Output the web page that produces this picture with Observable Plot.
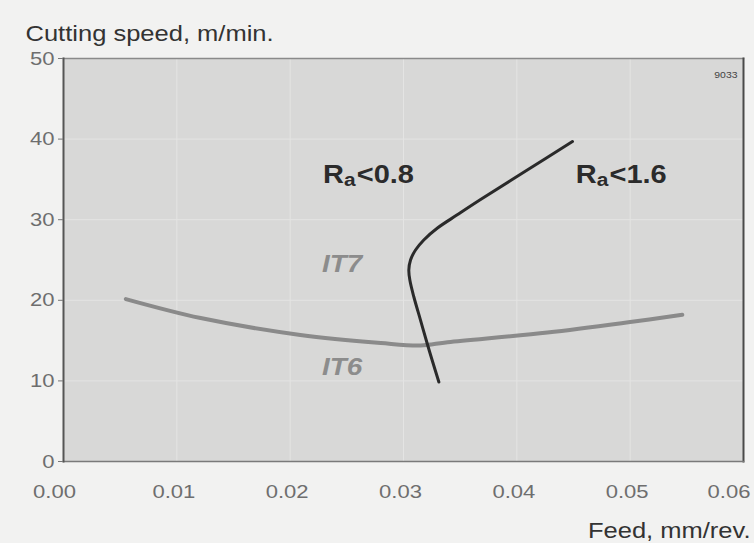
<!DOCTYPE html>
<html>
<head>
<meta charset="utf-8">
<script src="https://cdn.jsdelivr.net/npm/d3@7"></script>
<script src="https://cdn.jsdelivr.net/npm/@observablehq/plot@0.6"></script>
<style>
  html, body { margin: 0; padding: 0; background: #f1f1f0; }
  svg { display: block; }
</style>
</head>
<body>
<div id="chart"></div>
<script>
// ---- data ----
const xTicks = [0, 0.01, 0.02, 0.03, 0.04, 0.05, 0.06];
const xTickLabels = ["0.00", "0.01", "0.02", "0.03", "0.04", "0.05", "0.06"];
const yTicks = [0, 10, 20, 30, 40, 50];

// IT6 / IT7 boundary (grey curve)
const itFeed  = [0.0055, 0.0121, 0.0209, 0.0280, 0.0315, 0.0339, 0.0427, 0.0500, 0.0546];
const itSpeed = [20.15, 17.8, 15.7, 14.7, 14.4, 14.8, 16.0, 17.3, 18.2];

// Ra<0.8 / Ra<1.6 boundary (dark curve)
const raFeed  = [0.03312, 0.03253, 0.03209, 0.03150, 0.03091, 0.03056, 0.03047, 0.03062,
                 0.03106, 0.03179, 0.03297, 0.03474, 0.03680, 0.04085, 0.04491];
const raSpeed = [9.86, 12.56, 14.64, 17.54, 20.44, 22.51, 23.76, 25.0,
                 26.24, 27.49, 28.94, 30.6, 32.5, 36.1, 39.7];

// annotations
const raLabels = ["Ra<0.8", "Ra<1.6"];
const raLabelFeed = [0.0229, 0.0452];
const raLabelSpeed = [34.6, 34.6];
const itLabels = ["IT7", "IT6"];
const itLabelFeed = [0.0228, 0.0228];
const itLabelSpeed = [23.5, 10.7];

const yTitle = "Cutting speed, m/min.";
const xTitle = "Feed, mm/rev.";
const figId = "9033";

// ---- build tables ----
const itData = itFeed.map((f, i) => ({feed: f, speed: itSpeed[i]}));
const raData = raFeed.map((f, i) => ({feed: f, speed: raSpeed[i]}));
const raLab = raLabels.map((t, i) => ({t, feed: raLabelFeed[i], speed: raLabelSpeed[i]}));
const itLab = itLabels.map((t, i) => ({t, feed: itLabelFeed[i], speed: itLabelSpeed[i]}));
const xTickData = xTicks.map((v, i) => ({v, label: xTickLabels[i]}));

const FONT = "Liberation Sans, Arial, Helvetica, sans-serif";

const plot = Plot.plot({
  width: 754,
  height: 543,
  marginLeft: 63,
  marginRight: 11,
  marginTop: 58,
  marginBottom: 82,
  style: {background: "#f2f2f1", fontFamily: FONT},
  x: {domain: [0, 0.06], axis: null},
  y: {domain: [0, 50], axis: null},
  marks: [
    Plot.frame({fill: "#d8d8d7", stroke: null}),
    Plot.gridX(xTicks, {stroke: "#e4e4e3", strokeOpacity: 1, strokeWidth: 1}),
    Plot.gridY(yTicks, {stroke: "#e4e4e3", strokeOpacity: 1, strokeWidth: 1}),
    Plot.frame({anchor: "top", stroke: "#8a8a8a", strokeWidth: 1.5}),
    Plot.frame({anchor: "right", stroke: "#4a4a4a", strokeWidth: 2}),
    Plot.frame({anchor: "bottom", stroke: "#7a7a7a", strokeWidth: 1.5}),
    Plot.frame({anchor: "left", stroke: "#555555", strokeWidth: 2}),
    Plot.axisY(yTicks, {
      tickSize: 5, tickPadding: 4, fontSize: 19, color: "#6e6e6e",
      stroke: "#777", label: null, tickFormat: d => String(d)
    }),
    // x tick labels
    Plot.text(xTickData.slice(0, 1), {
      x: "v", text: "label", frameAnchor: "bottom", dy: 36, lineAnchor: "bottom",
      fontSize: 19, fill: "#6e6e6e", dx: -9
    }),
    Plot.text(xTickData.slice(1, -1), {
      x: "v", text: "label", frameAnchor: "bottom", dy: 36, lineAnchor: "bottom",
      fontSize: 19, fill: "#6e6e6e", dx: -3
    }),
    Plot.text(xTickData.slice(-1), {
      x: "v", text: "label", frameAnchor: "bottom", dy: 36, lineAnchor: "bottom",
      fontSize: 19, fill: "#6e6e6e", textAnchor: "end", dx: 7
    }),
    // curves
    Plot.line(itData, {x: "feed", y: "speed", stroke: "#8a8a8a", strokeWidth: 4, curve: "catmull-rom"}),
    Plot.line(raData, {x: "feed", y: "speed", stroke: "#2a2a2a", strokeWidth: 3, curve: "catmull-rom"}),
    // labels
    Plot.text(raLab, {x: "feed", y: "speed", text: "t", textAnchor: "start", lineAnchor: "bottom",
      fontSize: 25, fontWeight: "bold", fill: "#2b2b2b"}),
    Plot.text(itLab, {x: "feed", y: "speed", text: "t", textAnchor: "start", lineAnchor: "bottom",
      fontSize: 24, fontWeight: "bold", fontStyle: "italic", fill: "#8c8c8c"}),
    Plot.text([figId], {frameAnchor: "top-right", dx: -6, dy: 19, lineAnchor: "bottom",
      textAnchor: "end", fontSize: 9, fill: "#444"}),
    // titles
    Plot.text([yTitle], {frameAnchor: "top-left", dx: -38, dy: -18, lineAnchor: "bottom",
      textAnchor: "start", fontSize: 22, fill: "#333"}),
    Plot.text([xTitle], {frameAnchor: "bottom-right", dx: 7, dy: 76, lineAnchor: "bottom",
      textAnchor: "end", fontSize: 22, fill: "#333"})
  ]
});

document.getElementById("chart").appendChild(plot);

// subscript "a" in the Ra labels
d3.select(plot).selectAll("text").each(function() {
  const s = this.textContent;
  if (/^Ra</.test(s) && this.children.length === 0) {
    const el = d3.select(this);
    el.text(null);
    el.append("tspan").text("R");
    el.append("tspan").attr("font-size", 18).attr("dy", 3).text("a");
    el.append("tspan").attr("font-size", 25).attr("dy", -3).attr("dx", 1).text(s.slice(2));
  }
});
// the reference is horizontally stretched: widen all text about its anchor
d3.select(plot).selectAll("text").each(function() {
  const t = this.getAttribute("transform");
  if (t) this.setAttribute("transform", t + " scale(1.16,1)");
});
</script>
</body>
</html>
